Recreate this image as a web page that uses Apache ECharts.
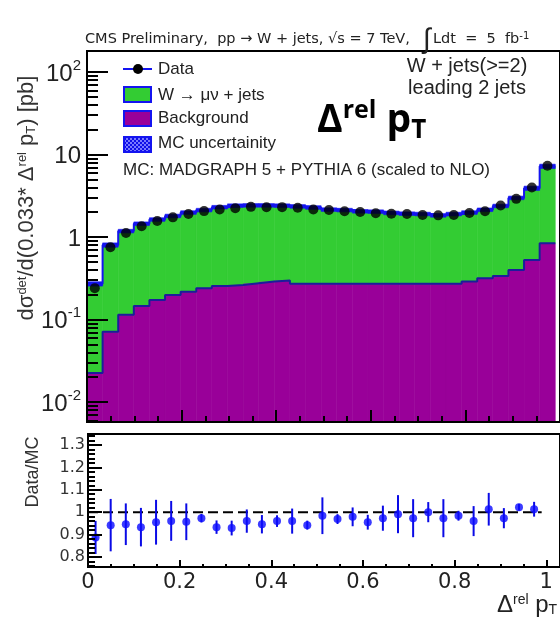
<!DOCTYPE html>
<html>
<head>
<meta charset="utf-8">
<script src="https://cdn.jsdelivr.net/npm/echarts@6/dist/echarts.min.js"></script>
<style>
html, body { margin: 0; padding: 0; background: #fff; }
#chart { width: 560px; height: 625px; }
</style>
</head>
<body>
<div id="chart"></div>
<script>
// Histogram binning in Δ^rel p_T
const binWidth = 0.033;
const nBins = 30;

// Measured cross section per bin [pb]
const dataXsec = [0.24, 0.75, 1.12, 1.35, 1.56, 1.73, 1.90, 2.06, 2.15, 2.23,
                  2.32, 2.29, 2.30, 2.26, 2.15, 2.12, 2.05, 2.01, 1.94, 1.91,
                  1.90, 1.85, 1.83, 1.85, 1.95, 2.05, 2.41, 2.90, 3.98, 7.3];
// W -> mu nu + jets prediction (stacked on top of the background)
const wjetsXsec = [0.248, 0.729, 1.066, 1.304, 1.458, 1.602, 1.763, 1.881, 2.045, 2.138,
                   2.145, 2.132, 2.104, 2.078, 2.008, 1.878, 1.848, 1.778, 1.758, 1.688,
                   1.648, 1.628, 1.558, 1.628, 1.692, 1.824, 2.043, 2.582, 3.374, 6.36];
// Background prediction
const bkgXsec = [0.0225, 0.071, 0.114, 0.146, 0.172, 0.198, 0.217, 0.239, 0.255, 0.262,
                 0.275, 0.288, 0.296, 0.272, 0.272, 0.272, 0.272, 0.272, 0.272, 0.272,
                 0.272, 0.272, 0.272, 0.272, 0.288, 0.316, 0.337, 0.398, 0.526, 0.838];
// Relative MC uncertainty per bin
const mcRelUnc = [0.06, 0.06, 0.05, 0.05, 0.05, 0.05, 0.05, 0.05, 0.05, 0.05,
                  0.05, 0.05, 0.05, 0.05, 0.05, 0.05, 0.05, 0.05, 0.05, 0.05,
                  0.05, 0.05, 0.05, 0.05, 0.05, 0.05, 0.05, 0.05, 0.06, 0.06];
// Data/MC ratio and its uncertainty
const ratioVals = [0.887, 0.942, 0.946, 0.933, 0.955, 0.961, 0.957, 0.973, 0.933, 0.929,
                   0.960, 0.946, 0.960, 0.960, 0.942, 0.984, 0.969, 0.979, 0.955, 0.973,
                   0.991, 0.973, 1.000, 0.973, 0.984, 0.960, 1.013, 0.973, 1.022, 1.013];
const ratioErrs = [0.074, 0.117, 0.093, 0.086, 0.100, 0.089, 0.082, 0.019, 0.030, 0.033,
                   0.052, 0.041, 0.026, 0.056, 0.020, 0.082, 0.022, 0.042, 0.033, 0.056,
                   0.085, 0.085, 0.045, 0.085, 0.022, 0.067, 0.073, 0.045, 0.015, 0.033];

// Axis ticks and labels
const xTickValues = [0, 0.2, 0.4, 0.6, 0.8, 1];
const xTickLabels = ['0', '0.2', '0.4', '0.6', '0.8', '1'];
const yDecades = [-2, -1, 0, 1, 2];
const ratioTickValues = [0.8, 0.9, 1.0, 1.1, 1.2, 1.3];
const ratioTickLabels = ['0.8', '0.9', '1', '1.1', '1.2', '1.3'];

// Upper pad y range (log10 of pb)
const yLogMin = -2.2424, yLogMax = 2.2545;
const ratioMin = 0.755, ratioMax = 1.349;

const GREEN = '#33cc33', PURPLE = '#990099', BLUE = '#1414f0', DARKBLUE = '#1c1c9c';
const FONT = "'Liberation Sans', Arial, Helvetica, sans-serif";
const WIDEFONT = "'DejaVu Sans', sans-serif";
const BOLDFONT = "'Open Sans', sans-serif";

const lg = Math.log10;
const binLo = k => k * binWidth;
const binCenter = k => (k + 0.5) * binWidth;

// minor ticks
const xMinorTop = [];
for (let i = 1; i <= 20; i++) if (i % 4 !== 0) xMinorTop.push(+(i * 0.05).toFixed(2));
const yMinorLog = [];
for (let d = -3; d <= 2; d++) for (let m = 2; m <= 9; m++) {
  const v = lg(m * Math.pow(10, d));
  if (v > yLogMin && v < yLogMax) yMinorLog.push(v);
}
const ratioMinor = [];
for (let i = 38; i <= 67; i++) { if (i % 5 !== 0) ratioMinor.push(+(i * 0.02).toFixed(2)); }

// stacked layers (log space) : [bin, lower, upper]
const bkgLayer = bkgXsec.map((b, k) => [k, yLogMin, lg(b)]);
const wLayer = bkgXsec.map((b, k) => [k, lg(b), lg(b + wjetsXsec[k])]);
const uncBand = bkgXsec.map((b, k) => {
  const t = b + wjetsXsec[k];
  return [k, lg(t * (1 - mcRelUnc[k])), lg(t * (1 + mcRelUnc[k]))];
});
function outline(values) {
  const pts = values.map((v, k) => [binLo(k), lg(v)]);
  pts.push([binLo(values.length), lg(values[values.length - 1])]);
  return pts;
}
const totalXsec = bkgXsec.map((b, k) => b + wjetsXsec[k]);

function histRect(color) {
  return function (params, api) {
    const k = api.value(0);
    const p0 = api.coord([binLo(k), api.value(2)]);
    const p1 = api.coord([binLo(k + 1), api.value(1)]);
    return {
      type: 'rect',
      shape: { x: p0[0], y: p0[1], width: p1[0] - p0[0], height: p1[1] - p0[1] },
      style: { fill: color, stroke: color, lineWidth: 0.6 }
    };
  };
}

const chart = echarts.init(document.getElementById('chart'), null, { renderer: 'canvas' });

// hatched fill for the uncertainty legend box
const pat = document.createElement('canvas');
pat.width = 4; pat.height = 4;
(function () {
  const c = pat.getContext('2d');
  c.fillStyle = '#1010e8'; c.fillRect(0, 0, 4, 4);
  c.fillStyle = '#7a7aff'; c.fillRect(0, 0, 2, 2); c.fillRect(2, 2, 2, 2);
})();

const tickStyle = { color: '#000', width: 2 };

const option = {
  animation: false,
  backgroundColor: '#fff',
  grid: [
    { left: 87, top: 51, width: 478, height: 371, show: true, borderColor: '#000', borderWidth: 2, backgroundColor: 'transparent' },
    { left: 88, top: 434, width: 475, height: 133, show: true, borderColor: '#000', borderWidth: 2, backgroundColor: 'transparent' }
  ],
  xAxis: [
    { gridIndex: 0, type: 'value', min: 0, max: 1, position: 'bottom', z: 10,
      axisLine: { show: true, onZero: false, lineStyle: tickStyle },
      axisTick: { show: true, inside: true, length: 12, customValues: xTickValues, lineStyle: tickStyle },
      axisLabel: { show: false }, splitLine: { show: false } },
    { gridIndex: 0, type: 'value', min: 0, max: 1, position: 'bottom', z: 10,
      axisLine: { show: false, onZero: false },
      axisTick: { show: true, inside: true, length: 6, customValues: xMinorTop, lineStyle: tickStyle },
      axisLabel: { show: false }, splitLine: { show: false } },
    { gridIndex: 1, type: 'value', min: 0, max: 1.03, position: 'bottom', z: 10,
      axisLine: { show: true, onZero: false, lineStyle: tickStyle },
      axisTick: { show: true, inside: true, length: 7, customValues: xTickValues, lineStyle: tickStyle },
      axisLabel: { show: true, customValues: xTickValues, margin: 5,
        formatter: v => xTickLabels[xTickValues.findIndex(t => Math.abs(t - v) < 1e-6)],
        fontFamily: WIDEFONT, fontSize: 21, color: '#222' },
      splitLine: { show: false } },
    { gridIndex: 1, type: 'value', min: 0, max: 1.03, position: 'bottom', z: 10,
      axisLine: { show: false, onZero: false },
      axisTick: { show: true, inside: true, length: 3, customValues: xMinorTop, lineStyle: tickStyle },
      axisLabel: { show: false }, splitLine: { show: false } }
  ],
  yAxis: [
    { gridIndex: 0, type: 'value', min: yLogMin, max: yLogMax, position: 'left', z: 10,
      axisLine: { show: true, onZero: false, lineStyle: tickStyle },
      axisTick: { show: true, inside: true, length: 21, customValues: yDecades, lineStyle: tickStyle },
      axisLabel: { show: true, customValues: yDecades, margin: 6,
        formatter: v => {
          const e = Math.round(v);
          if (e === 0) return '{b|1}';
          if (e === 1) return '{b|10}';
          return '{b|10}{s|' + e + '}';
        },
        rich: {
          b: { fontFamily: FONT, fontSize: 24, color: '#222', lineHeight: 28, verticalAlign: 'bottom' },
          s: { fontFamily: FONT, fontSize: 15, color: '#222', lineHeight: 15, verticalAlign: 'top' }
        } },
      splitLine: { show: false } },
    { gridIndex: 0, type: 'value', min: yLogMin, max: yLogMax, position: 'left', z: 10,
      axisLine: { show: false, onZero: false },
      axisTick: { show: true, inside: true, length: 11, customValues: yMinorLog, lineStyle: tickStyle },
      axisLabel: { show: false }, splitLine: { show: false } },
    { gridIndex: 1, type: 'value', min: ratioMin, max: ratioMax, position: 'left', z: 10,
      axisLine: { show: true, onZero: false, lineStyle: tickStyle },
      axisTick: { show: true, inside: true, length: 14, customValues: ratioTickValues, lineStyle: tickStyle },
      axisLabel: { show: true, customValues: ratioTickValues, margin: 3,
        formatter: v => ratioTickLabels[ratioTickValues.findIndex(t => Math.abs(t - v) < 1e-6)],
        fontFamily: WIDEFONT, fontSize: 16, color: '#333' },
      splitLine: { show: false } },
    { gridIndex: 1, type: 'value', min: ratioMin, max: ratioMax, position: 'left', z: 10,
      axisLine: { show: false, onZero: false },
      axisTick: { show: true, inside: true, length: 7, customValues: ratioMinor, lineStyle: tickStyle },
      axisLabel: { show: false }, splitLine: { show: false } }
  ],
  series: [
    { name: 'Background', type: 'custom', xAxisIndex: 0, yAxisIndex: 0, clip: true, z: 2,
      renderItem: histRect(PURPLE), data: bkgLayer },
    { name: 'W → μν + jets', type: 'custom', xAxisIndex: 0, yAxisIndex: 0, clip: true, z: 2,
      renderItem: histRect(GREEN), data: wLayer },
    { name: 'bkg outline', type: 'line', xAxisIndex: 0, yAxisIndex: 0, step: 'end', symbol: 'none', z: 3,
      lineStyle: { color: DARKBLUE, width: 2 }, data: outline(bkgXsec) },
    { name: 'MC uncertainity', type: 'custom', xAxisIndex: 0, yAxisIndex: 0, clip: true, z: 3,
      renderItem: histRect(BLUE), data: uncBand },
    { name: 'total outline', type: 'line', xAxisIndex: 0, yAxisIndex: 0, step: 'end', symbol: 'none', z: 3,
      lineStyle: { color: BLUE, width: 2 }, data: outline(totalXsec) },
    { name: 'Data', type: 'scatter', xAxisIndex: 0, yAxisIndex: 0, z: 4,
      symbol: 'circle', symbolSize: 10, itemStyle: { color: '#000' },
      data: dataXsec.map((v, k) => [binCenter(k), lg(v)]) },
    // ratio pad
    { name: 'unity', type: 'line', xAxisIndex: 2, yAxisIndex: 2, symbol: 'none', z: 3,
      lineStyle: { color: '#000', width: 2, type: [10, 5] },
      data: [[0, 1], [nBins * binWidth, 1]] },
    { name: 'ratio err', type: 'custom', xAxisIndex: 2, yAxisIndex: 2, z: 4,
      renderItem: (params, api) => {
        const x = api.value(0), r = api.value(1), e = api.value(2);
        const a = api.coord([x, r - e]), b = api.coord([x, r + e]);
        return { type: 'line', shape: { x1: a[0], y1: a[1], x2: b[0], y2: b[1] },
          style: { stroke: '#0a0ae6', lineWidth: 2 } };
      },
      data: ratioVals.map((r, k) => [binCenter(k), r, ratioErrs[k]]) },
    { name: 'ratio', type: 'scatter', xAxisIndex: 2, yAxisIndex: 2, z: 5,
      symbol: 'circle', symbolSize: 8, itemStyle: { color: '#0a0aff' },
      data: ratioVals.map((r, k) => [binCenter(k), r]) }
  ],
  graphic: [
    // header
    { type: 'text', x: 85, y: 39, z: 20, style: {
        text: 'CMS Preliminary,  pp → W + jets, √s = 7 TeV,',
        font: '14.5px ' + WIDEFONT, fill: '#222', verticalAlign: 'middle' } },
    { type: 'text', x: 423, y: 40, z: 20, style: {
        text: '∫', font: '28px ' + FONT, fill: '#222', verticalAlign: 'middle' } },
    { type: 'text', x: 433, y: 39, z: 20, style: {
        text: 'Ldt  =  5  fb{s|-1}', font: '14.5px ' + WIDEFONT, fill: '#222', verticalAlign: 'middle',
        rich: { s: { fontSize: 10, fontFamily: WIDEFONT, fill: '#222', verticalAlign: 'top', lineHeight: 10 } } } },
    // legend
    { type: 'line', z: 20, shape: { x1: 123, y1: 69, x2: 152, y2: 69 }, style: { stroke: BLUE, lineWidth: 2 } },
    { type: 'circle', z: 21, shape: { cx: 138, cy: 69, r: 5 }, style: { fill: '#000' } },
    { type: 'text', z: 20, x: 158, y: 69, style: { text: 'Data', font: '17px ' + FONT, fill: '#222', verticalAlign: 'middle' } },
    { type: 'rect', z: 20, shape: { x: 124, y: 87, width: 27, height: 15 }, style: { fill: GREEN, stroke: BLUE, lineWidth: 2 } },
    { type: 'text', z: 20, x: 158, y: 95, style: { text: 'W → μν + jets', font: '17px ' + FONT, fill: '#222', verticalAlign: 'middle' } },
    { type: 'rect', z: 20, shape: { x: 124, y: 111, width: 27, height: 15 }, style: { fill: PURPLE, stroke: BLUE, lineWidth: 2 } },
    { type: 'text', z: 20, x: 158, y: 118, style: { text: 'Background', font: '17px ' + FONT, fill: '#222', verticalAlign: 'middle' } },
    { type: 'rect', z: 20, shape: { x: 124, y: 137, width: 27, height: 15 }, style: { fill: { image: pat, repeat: 'repeat' }, stroke: BLUE, lineWidth: 2 } },
    { type: 'text', z: 20, x: 158, y: 143, style: { text: 'MC uncertainity', font: '17px ' + FONT, fill: '#222', verticalAlign: 'middle' } },
    { type: 'text', z: 20, x: 123, y: 170, style: { text: 'MC: MADGRAPH 5 + PYTHIA 6 (scaled to NLO)', font: '17px ' + FONT, fill: '#222', verticalAlign: 'middle' } },
    // selection labels
    { type: 'text', z: 20, x: 467, y: 66, style: { text: 'W + jets(>=2)', font: '20px ' + FONT, fill: '#222', align: 'center', verticalAlign: 'middle' } },
    { type: 'text', z: 20, x: 467, y: 88, style: { text: 'leading 2 jets', font: '20px ' + FONT, fill: '#222', align: 'center', verticalAlign: 'middle' } },
    // variable name
    { type: 'text', z: 20, x: 317, y: 121, style: {
        text: '{b|Δ}{s|rel}{b| p}{u|T}', verticalAlign: 'middle',
        rich: { b: { fontFamily: BOLDFONT, fontWeight: 'bold', fontSize: 39, fill: '#000', lineHeight: 46 },
                s: { fontFamily: BOLDFONT, fontWeight: 'bold', fontSize: 25, fill: '#000', lineHeight: 25, verticalAlign: 'top' },
                u: { fontFamily: BOLDFONT, fontWeight: 'bold', fontSize: 26, fill: '#000', lineHeight: 24, verticalAlign: 'bottom' } } } },
    // y axis titles
    { type: 'text', z: 20, x: 27, y: 198, rotation: Math.PI / 2, style: {
        text: 'dσ{s|det}/d(0.033* Δ{s|rel} p{u|T}) [pb]', align: 'center', verticalAlign: 'middle',
        font: '22px ' + FONT, fill: '#333',
        rich: { s: { fontSize: 13, fontFamily: FONT, fill: '#333', lineHeight: 13, verticalAlign: 'top' },
                u: { fontSize: 13, fontFamily: FONT, fill: '#333', lineHeight: 13, verticalAlign: 'bottom' } } } },
    { type: 'text', z: 20, x: 33, y: 472, rotation: Math.PI / 2, style: {
        text: 'Data/MC', align: 'center', verticalAlign: 'middle', font: '18px ' + FONT, fill: '#333' } },
    // x axis title
    { type: 'text', z: 20, x: 497, y: 605, style: {
        text: 'Δ{s|rel} p{u|T}', verticalAlign: 'middle', font: '24px ' + FONT, fill: '#222',
        rich: { s: { fontSize: 14, fontFamily: FONT, fill: '#222', lineHeight: 14, verticalAlign: 'top' },
                u: { fontSize: 14, fontFamily: FONT, fill: '#222', lineHeight: 14, verticalAlign: 'bottom' } } } }
  ]
};

chart.setOption(option);
</script>
</body>
</html>
